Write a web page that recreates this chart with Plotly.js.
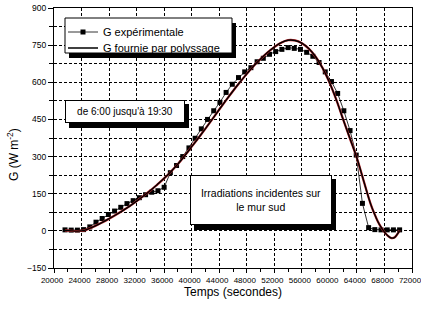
<!DOCTYPE html>
<html>
<head>
<meta charset="utf-8">
<script src="https://cdn.plot.ly/plotly-3.0.1.min.js"></script>
<style>html,body{margin:0;padding:0;background:#fff;}#chart{width:421px;height:309px;}</style>
</head>
<body>
<div id="chart"></div>
<script>
// Experimental irradiance (every 15 min, 6:00 -> 19:30)
const tempsExp = [21600,22500,23400,24300,25200,26100,27000,27900,28800,29700,30600,31500,32400,33300,34200,35100,36000,36900,37800,38700,39600,40500,41400,42300,43200,44100,45000,45900,46800,47700,48600,49500,50400,51300,52200,53100,54000,54900,55800,56700,57600,58500,59400,60300,61200,62100,63000,63900,64800,65700,66600,67500,68400,69300,70200];
const gExp = [4,3,3,5,16,35,50,66,80,95,110,122,134,146,156,162,176,235,264,300,335,374,412,450,485,519,559,592,619,642,659,683,697,713,724,733,740,737,733,721,705,680,642,603,555,485,405,306,111,13,5,4,4,4,4];

// Fitted curve
const tempsFit = [21600,22500,23400,24300,25000,26000,27000,28000,29000,30000,31000,32000,33000,34000,35000,36000,37000,38000,39000,40000,41000,42000,43000,44000,45000,46000,47000,48000,49000,50000,51000,52000,53000,54000,55000,56000,57000,58000,59000,60000,61000,62000,63000,64000,65000,66000,66500,67000,67500,68000,68500,69000,69500,70000,70200];
const gFit = [2,0,-1,1,8,20,34,49,65,82,100,120,141,163,187,212,240,270,304,340,376,413,451,490,528,565,600,634,666,694,720,742,760,770,769,758,736,703,658,600,530,450,372,294,200,108,72,40,15,-5,-20,-29,-26,-8,2];

const nomExp = "G expérimentale";
const nomFit = "G fournie par polyssage";
const texteHoraire = "de 6:00 jusqu'à 19:30";
const texteMur = "Irradiations incidentes sur<br>le mur sud";
const titreX = "Temps (secondes)";
const titreY = "G (W m<sup>-2</sup>)";

const W = 421, H = 309, L = 54, R = 9, T = 8, B = 41;
const pw = W - L - R, ph = H - T - B;
const px = v => (v - L) / pw;
const py = v => (H - B - v) / ph;

const FONT = "Arial, 'Liberation Sans', sans-serif";

const traces = [
  {
    x: tempsExp, y: gExp, name: nomExp, type: 'scatter', mode: 'lines+markers',
    line: {color: '#000', width: 0.8},
    marker: {symbol: 'square', size: 5, color: '#000'},
    legend: 'legend'
  },
  {
    x: tempsFit, y: gFit, name: nomFit, type: 'scatter', mode: 'lines',
    line: {color: '#c0282d', width: 2.3, shape: 'spline'}, showlegend: false, hoverinfo: 'skip'
  },
  {
    x: tempsFit, y: gFit, name: nomFit, type: 'scatter', mode: 'lines',
    line: {color: '#000', width: 1.4, shape: 'spline'},
    legend: 'legend2'
  }
];

function box(x0, y0, x1, y1, fill, lw) {
  return {type: 'rect', xref: 'paper', yref: 'paper', x0: px(x0), x1: px(x1), y0: py(y1), y1: py(y0),
          fillcolor: fill, line: {width: lw, color: '#000'}, layer: 'above'};
}

function legendAt(yPix) {
  return {
    x: px(63), y: py(yPix), xanchor: 'left', yanchor: 'middle',
    bgcolor: 'rgba(0,0,0,0)', borderwidth: 0,
    font: {family: FONT, size: 11, color: '#000'},
    tracegroupgap: 0, itemwidth: 30
  };
}

const layout = {
  width: W, height: H,
  margin: {l: L, r: R, t: T, b: B, pad: 0},
  paper_bgcolor: '#fff', plot_bgcolor: '#fff',
  font: {family: FONT, color: '#000', size: 9},
  showlegend: true,
  legend: legendAt(32),
  legend2: legendAt(48),
  xaxis: {
    range: [20000, 72000], tickmode: 'linear', tick0: 20000, dtick: 4000, tickformat: 'd',
    showgrid: true, gridcolor: '#000', gridwidth: 1, griddash: '3px,2px',
    zeroline: false, showline: true, linecolor: '#000', linewidth: 1, mirror: true,
    ticks: 'outside', ticklen: 4, tickcolor: '#000', ticklabeloverflow: 'allow', ticklabelshift: -2,
    tickfont: {family: FONT, size: 8, color: '#000'},
    minor: {dtick: 2000, tick0: 20000, ticks: 'outside', ticklen: 3, tickcolor: '#000', showgrid: false},
    title: {text: ''}
  },
  yaxis: {
    range: [-150, 900], tickmode: 'linear', tick0: 0, dtick: 150,
    showgrid: true, gridcolor: '#000', gridwidth: 1, griddash: '3px,2px',
    zeroline: false, showline: true, linecolor: '#000', linewidth: 1, mirror: true,
    ticks: 'outside', ticklen: 5, tickcolor: '#000',
    tickfont: {family: FONT, size: 8.5, color: '#000'},
    minor: {dtick: 75, tick0: 0, ticks: 'outside', ticklen: 4, tickcolor: '#000',
            showgrid: true, gridcolor: '#000', gridwidth: 1, griddash: '3px,2px'},
    title: {text: ''}
  },
  shapes: [
    box(69, 23, 236, 58, '#000', 0),
    box(65, 18, 232, 53, '#fff', 1),
    box(69, 104, 189, 128, '#000', 0),
    box(194, 179, 336, 230, '#000', 0)
  ],
  annotations: [
    {xref: 'paper', yref: 'paper', x: px(65), y: py(100), xanchor: 'left', yanchor: 'top',
     text: texteHoraire, showarrow: false, width: 118, height: 21, align: 'center', valign: 'middle',
     bgcolor: '#fff', bordercolor: '#000', borderwidth: 1, borderpad: 0,
     font: {family: FONT, size: 10, color: '#000'}},
    {xref: 'paper', yref: 'paper', x: px(190), y: py(175), xanchor: 'left', yanchor: 'top',
     text: texteMur, showarrow: false, width: 140, height: 48, align: 'center', valign: 'middle',
     bgcolor: '#fff', bordercolor: '#000', borderwidth: 1, borderpad: 0,
     font: {family: FONT, size: 10.5, color: '#000'}},
    {xref: 'paper', yref: 'paper', x: px(13), y: py(155), xanchor: 'center', yanchor: 'middle',
     text: titreY, showarrow: false, textangle: -90,
     font: {family: FONT, size: 12, color: '#000'}},
    {xref: 'paper', yref: 'paper', x: px(233), y: py(292), xanchor: 'center', yanchor: 'middle',
     text: titreX, showarrow: false,
     font: {family: FONT, size: 12, color: '#000'}}
  ]
};

Plotly.newPlot('chart', traces, layout, {staticPlot: true, displayModeBar: false});
</script>
</body>
</html>
